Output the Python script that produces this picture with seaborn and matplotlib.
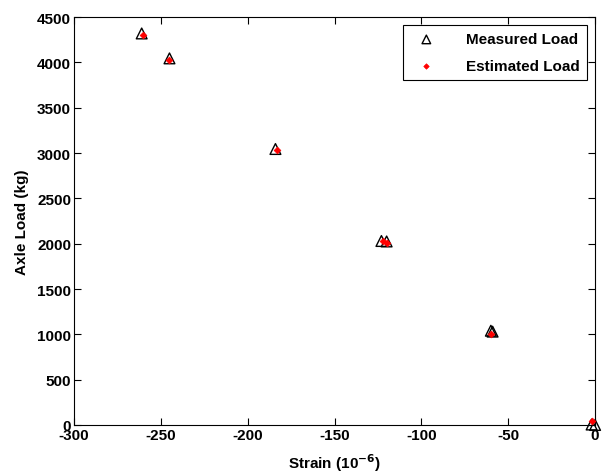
import matplotlib
matplotlib.use("Agg")
import matplotlib.pyplot as plt
import seaborn as sns
import pandas as pd

measured_strain = [-261, -245, -184, -123, -120, -60, -59, -2, 0]
measured_load = [4320, 4045, 3045, 2030, 2025, 1040, 1030, 5, 0]
estimated_strain = [-260, -245, -183, -122, -120, -60, -2]
estimated_load = [4300, 4025, 3030, 2025, 2010, 1005, 40]

xticks = [-300, -250, -200, -150, -100, -50, 0]
yticks = [0, 500, 1000, 1500, 2000, 2500, 3000, 3500, 4000, 4500]

sns.set_theme(style="white")
plt.rcParams['font.family'] = ['Liberation Sans', 'DejaVu Sans']
plt.rcParams['font.weight'] = 'bold'
plt.rcParams['text.color'] = 'black'
plt.rcParams['axes.labelcolor'] = 'black'
plt.rcParams['xtick.color'] = 'black'
plt.rcParams['ytick.color'] = 'black'

fig = plt.figure(figsize=(6.06, 4.77), dpi=100)
ax = fig.add_axes([0.122, 0.107, 0.860, 0.855])

dm = pd.DataFrame({"strain": measured_strain, "load": measured_load})
de = pd.DataFrame({"strain": estimated_strain, "load": estimated_load})

sns.scatterplot(data=dm, x="strain", y="load", ax=ax, marker="^", s=60,
                facecolor="none", edgecolor="black", linewidth=1.0,
                label="Measured Load", clip_on=False, zorder=3)
sns.scatterplot(data=de, x="strain", y="load", ax=ax, marker="D", s=12,
                color="red", edgecolor="red", linewidth=0.5,
                label="Estimated Load", clip_on=False, zorder=4)

ax.set_xlim(-300, 0)
ax.set_ylim(0, 4500)
ax.set_xticks(xticks)
ax.set_yticks(yticks)
ax.set_xticklabels([str(t) for t in xticks], fontsize=11, fontweight='bold')
ax.set_yticklabels([str(t) for t in yticks], fontsize=11, fontweight='bold')
ax.tick_params(direction='in', length=5, width=0.8, color='black', pad=2,
               top=True, right=True, bottom=True, left=True)
for s in ax.spines.values():
    s.set_color('black')
    s.set_linewidth(0.8)

ax.set_xlabel("Strain (10$^{-6}$)", fontsize=11, fontweight='bold', labelpad=7)
ax.set_ylabel("Axle Load (kg)", fontsize=11, fontweight='bold', labelpad=6)

leg = ax.legend(loc="upper right", fontsize=11, frameon=True, fancybox=False,
                edgecolor='black', framealpha=1, borderpad=0.5,
                labelspacing=0.8, handletextpad=1.6, borderaxespad=0.5,
                markerscale=0.8)
leg.get_frame().set_linewidth(0.8)
for t in leg.get_texts():
    t.set_fontweight('bold')
    t.set_color('black')

fig.savefig("out.png", dpi=100)
